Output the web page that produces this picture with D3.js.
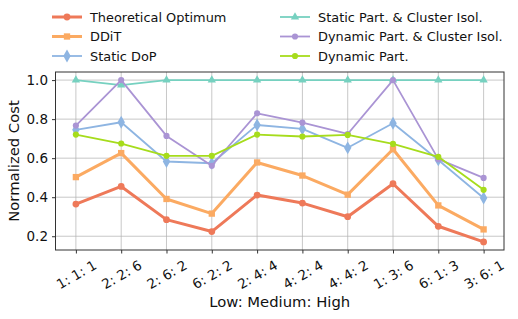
<!DOCTYPE html>
<html>
<head>
<meta charset="utf-8">
<script src="https://cdn.jsdelivr.net/npm/d3@7"></script>
<style>
  body { margin: 0; background: #fff; }
  text { font-family: "DejaVu Sans", sans-serif; fill: #111; }
</style>
</head>
<body>
<div id="chart"></div>
<script>
// ratios on the x axis (Low: Medium: High)
var categories = ["1: 1: 1", "2: 2: 6", "2: 6: 2", "6: 2: 2", "2: 4: 4",
                  "4: 2: 4", "4: 4: 2", "1: 3: 6", "6: 1: 3", "3: 6: 1"];

var theoreticalOptimum = [0.365, 0.455, 0.285, 0.224, 0.411, 0.370, 0.300, 0.469, 0.251, 0.171];
var ddit               = [0.503, 0.626, 0.391, 0.316, 0.578, 0.511, 0.413, 0.646, 0.358, 0.235];
var staticDoP          = [0.745, 0.784, 0.583, 0.574, 0.770, 0.750, 0.653, 0.779, 0.591, 0.396];
var staticPartIsol     = [1.0, 0.974, 1.0, 1.0, 1.0, 1.0, 1.0, 1.0, 1.0, 1.0];
var dynamicPartIsol    = [0.767, 1.0, 0.714, 0.561, 0.830, 0.782, 0.724, 1.0, 0.595, 0.499];
var dynamicPart        = [0.721, 0.675, 0.612, 0.612, 0.721, 0.711, 0.719, 0.673, 0.607, 0.438];

var yTicks = [0.2, 0.4, 0.6, 0.8, 1.0];

var series = [
  {name: "Theoretical Optimum", values: theoreticalOptimum, color: "#ee7959", width: 3, marker: d3.symbolCircle, size: 36},
  {name: "DDiT", values: ddit, color: "#fbaa62", width: 3, marker: d3.symbolSquare, size: 40},
  {name: "Static DoP", values: staticDoP, color: "#8eb5e2", width: 1.8, marker: d3.symbolDiamond, size: 48},
  {name: "Static Part. & Cluster Isol.", values: staticPartIsol, color: "#76d1c0", width: 1.8, marker: d3.symbolTriangle, size: 30},
  {name: "Dynamic Part. & Cluster Isol.", values: dynamicPartIsol, color: "#aa94d4", width: 1.8, marker: d3.symbolCircle, size: 30},
  {name: "Dynamic Part.", values: dynamicPart, color: "#a6dc1c", width: 1.8, marker: d3.symbolCircle, size: 30}
];

var W = 518, H = 319;
var margin = {left: 55.5, right: 14, top: 72, bottom: 69};
var iw = W - margin.left - margin.right,
    ih = H - margin.top - margin.bottom;
var tickFont = 13.5, labelFont = 14.8, legendFont = 12.9;

var svg = d3.select("#chart").append("svg")
    .attr("width", W).attr("height", H);

var g = svg.append("g")
    .attr("transform", "translate(" + margin.left + "," + margin.top + ")");

var n = categories.length;
var pad = (n - 1) * 0.05;
var x = d3.scaleLinear().domain([-pad, n - 1 + pad]).range([0, iw]);

var allVals = [].concat.apply([], series.map(function(s) { return s.values; }));
var ymin = d3.min(allVals), ymax = d3.max(allVals);
var ypad = (ymax - ymin) * 0.05;
var y = d3.scaleLinear().domain([ymin - ypad, ymax + ypad]).range([ih, 0]);

// grid
g.selectAll(".gx").data(d3.range(n)).enter().append("line")
    .attr("x1", function(d) { return x(d); }).attr("x2", function(d) { return x(d); })
    .attr("y1", 0).attr("y2", ih)
    .style("stroke", "#b0b0b0").style("stroke-opacity", 0.7).style("stroke-width", 1);
g.selectAll(".gy").data(yTicks).enter().append("line")
    .attr("y1", function(d) { return y(d); }).attr("y2", function(d) { return y(d); })
    .attr("x1", 0).attr("x2", iw)
    .style("stroke", "#b0b0b0").style("stroke-opacity", 0.7).style("stroke-width", 1);

// axes
var xAxis = d3.axisBottom(x).tickValues(d3.range(n))
    .tickFormat(function(d) { return categories[d]; }).tickSize(3.5).tickSizeOuter(0);
var gx = g.append("g").attr("transform", "translate(0," + ih + ")").call(xAxis);
gx.select(".domain").remove();
gx.selectAll("line").style("stroke", "#333");
// rotated 30deg, bounding box centred under the tick (matplotlib style)
gx.selectAll("text")
    .style("font-size", tickFont + "px")
    .attr("text-anchor", "middle")
    .attr("dy", "0.35em").attr("y", 0)
    .attr("transform", function() {
      var w = this.getComputedTextLength();
      var bh = w * 0.5 + tickFont * 1.16 * 0.866;
      return "translate(0," + (7 + bh / 2) + ") rotate(-30)";
    });

var yAxis = d3.axisLeft(y).tickValues(yTicks).tickFormat(d3.format(".1f")).tickSize(3.5).tickSizeOuter(0);
var gy = g.append("g").call(yAxis);
gy.select(".domain").remove();
gy.selectAll("line").style("stroke", "#333");
gy.selectAll("text").style("font-size", tickFont + "px").attr("x", -7.5);

// frame
g.append("rect").attr("width", iw).attr("height", ih)
    .style("fill", "none").style("stroke", "#333").style("stroke-width", 1);

// lines + markers
var line = d3.line()
    .x(function(d, i) { return x(i); })
    .y(function(d) { return y(d); });

series.forEach(function(s) {
  g.append("path").datum(s.values)
      .attr("d", line)
      .style("fill", "none").style("stroke", s.color)
      .style("stroke-width", s.width).style("stroke-linejoin", "round");
  g.selectAll(null).data(s.values).enter().append("path")
      .attr("d", d3.symbol().type(s.marker).size(s.size))
      .attr("transform", function(d, i) { return "translate(" + x(i) + "," + y(d) + ")"; })
      .style("fill", s.color);
});

// axis labels
svg.append("text")
    .attr("x", margin.left + iw / 2).attr("y", 307)
    .attr("text-anchor", "middle").style("font-size", labelFont + "px")
    .text("Low: Medium: High");
svg.append("text")
    .attr("transform", "translate(19," + (margin.top + ih / 2) + ") rotate(-90)")
    .attr("text-anchor", "middle").style("font-size", labelFont + "px")
    .text("Normalized Cost");

// legend (two columns)
var legend = svg.append("g");
series.forEach(function(s, i) {
  var col = Math.floor(i / 3), row = i % 3;
  var lx = 52 + col * 228, ly = 17 + row * 19.5;
  var item = legend.append("g").attr("transform", "translate(" + lx + "," + ly + ")");
  item.append("line").attr("x1", 0).attr("x2", 30).attr("y1", 0).attr("y2", 0)
      .style("stroke", s.color).style("stroke-width", s.width);
  item.append("path").attr("d", d3.symbol().type(s.marker).size(s.size))
      .attr("transform", "translate(15,0)").style("fill", s.color);
  item.append("text").attr("x", 38).attr("y", 0).attr("dy", "0.36em")
      .style("font-size", legendFont + "px").text(s.name);
});
</script>
</body>
</html>
